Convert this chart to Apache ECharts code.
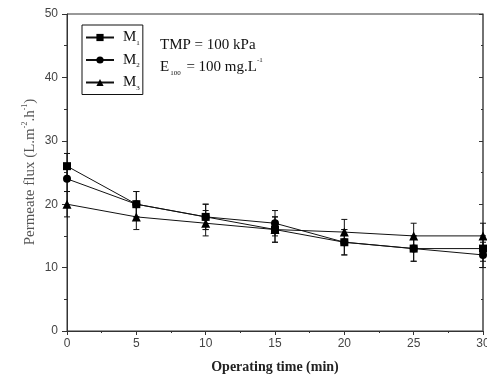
<!DOCTYPE html>
<html>
<head>
<meta charset="utf-8">
<script src="https://cdn.jsdelivr.net/npm/echarts@6/dist/echarts.min.js"></script>
<style>
  html, body { margin: 0; padding: 0; background: #fff; }
  #chart { width: 487px; height: 379px; }
</style>
</head>
<body>
<div id="chart"></div>
<script>
// operating time (min)
const time = [0, 5, 10, 15, 20, 25, 30];
// permeate flux (L.m-2.h-1)
const m1 = [26, 20, 18, 16, 14, 13, 13];
const m2 = [24, 20, 18, 17, 14, 13, 12];
const m3 = [20, 18, 17, 16, 15.6, 15, 15];
// +/- error
const err1 = [2, 2, 2, 2, 2, 2, 2];
const err2 = [2, 2, 2, 2, 2, 2, 2];
const err3 = [2, 2, 2, 2, 2, 2, 2];

const serif = '"Liberation Serif", "DejaVu Serif", serif';
const sans = '"Liberation Sans", Arial, sans-serif';

function pairs(vals) {
  return time.map((t, i) => [t, vals[i]]);
}
function errData(vals, e) {
  return time.map((t, i) => [t, vals[i] - e[i], vals[i] + e[i]]);
}

function renderErr(params, api) {
  const x = api.value(0);
  const lo = api.coord([x, api.value(1)]);
  const hi = api.coord([x, api.value(2)]);
  const cap = 3;
  const st = { stroke: '#111', lineWidth: 1 };
  return {
    type: 'group',
    children: [
      { type: 'line', shape: { x1: lo[0], y1: lo[1], x2: hi[0], y2: hi[1] }, style: st },
      { type: 'line', shape: { x1: lo[0] - cap, y1: lo[1], x2: lo[0] + cap, y2: lo[1] }, style: st },
      { type: 'line', shape: { x1: hi[0] - cap, y1: hi[1], x2: hi[0] + cap, y2: hi[1] }, style: st }
    ]
  };
}

function lineSeries(name, vals, symbol, size) {
  return {
    name: name,
    type: 'line',
    data: pairs(vals),
    symbol: symbol,
    symbolSize: size,
    showAllSymbol: true,
    z: 3,
    lineStyle: { color: '#111', width: 1 },
    itemStyle: { color: '#000' }
  };
}

function errSeries(vals, e) {
  return {
    type: 'custom',
    data: errData(vals, e),
    renderItem: renderErr,
    z: 2,
    silent: true,
    encode: { x: 0, y: [1, 2] }
  };
}

const legendRich = {
  m: { fontFamily: serif, fontSize: 15, color: '#111', lineHeight: 18, padding: [0, 0, 0, 4] },
  s: { fontFamily: serif, fontSize: 7, color: '#111', verticalAlign: 'bottom', lineHeight: 6 }
};

const chart = echarts.init(document.getElementById('chart'));
chart.setOption({
  animation: false,
  grid: {
    left: 67, right: 4, top: 14, bottom: 48,
    containLabel: false, outerBoundsMode: 'none',
    show: true, borderColor: '#333', borderWidth: 1
  },
  legend: {
    orient: 'vertical',
    left: 82,
    top: 25,
    borderColor: '#111',
    borderWidth: 1,
    borderRadius: 0,
    padding: [5, 3, 3, 3],
    itemWidth: 28,
    itemHeight: 9,
    itemGap: 6,
    data: ['M1', 'M2', 'M3'],
    formatter: function (name) {
      return '{m|M}{s|' + name.slice(1) + '}';
    },
    textStyle: { rich: legendRich }
  },
  xAxis: {
    type: 'value',
    min: 0,
    max: 30,
    interval: 5,
    splitLine: { show: false },
    axisLine: { lineStyle: { color: '#333' } },
    axisTick: { inside: false, length: 4, lineStyle: { color: '#333' } },
    minorTick: { show: true, splitNumber: 2, length: 2, lineStyle: { color: '#333' } },
    axisLabel: { color: '#444', fontFamily: sans, fontSize: 12, margin: 7 },
    name: 'Operating time (min)',
    nameLocation: 'middle',
    nameGap: 29,
    nameTextStyle: { fontFamily: serif, fontSize: 14, fontWeight: 'bold', color: '#222' }
  },
  yAxis: [{
    type: 'value',
    min: 0,
    max: 50,
    interval: 10,
    splitLine: { show: false },
    axisLine: { show: true, lineStyle: { color: '#333' } },
    axisTick: { show: true, inside: false, length: 5, lineStyle: { color: '#333' } },
    minorTick: { show: true, splitNumber: 2, length: 3, lineStyle: { color: '#333' } },
    axisLabel: { color: '#444', fontFamily: sans, fontSize: 12, margin: 9 }
  }, {
    type: 'value',
    position: 'right',
    min: 0,
    max: 50,
    interval: 10,
    splitLine: { show: false },
    axisLine: { show: true, lineStyle: { color: '#666', width: 1.5 } },
    axisTick: { show: true, inside: true, length: 4, lineStyle: { color: '#333' } },
    minorTick: { show: true, splitNumber: 2, length: 2, lineStyle: { color: '#333' } },
    axisLabel: { show: false }
  }],
  graphic: [
    {
      type: 'text',
      left: 160,
      top: 38,
      style: { text: 'TMP = 100 kPa', font: '15px ' + serif, fill: '#111' }
    },
    {
      type: 'text',
      left: 160,
      top: 57,
      style: {
        text: '{n|E}{sub|100}{n| = 100 mg.L}{sup|-1}',
        rich: {
          n: { fontFamily: serif, fontSize: 15, fill: '#111', lineHeight: 20 },
          sub: { fontFamily: serif, fontSize: 7, fill: '#111', lineHeight: 8, verticalAlign: 'bottom', padding: [0, 2, 0, 1] },
          sup: { fontFamily: serif, fontSize: 7, fill: '#111', lineHeight: 8, verticalAlign: 'top' }
        }
      }
    },
    {
      type: 'text',
      x: 30,
      y: 172,
      rotation: Math.PI / 2,
      style: {
        text: '{n|Permeate flux (L.m}{sup|-2}{n|.h}{sup|-1}{n|)}',
        align: 'center',
        verticalAlign: 'middle',
        rich: {
          n: { fontFamily: serif, fontSize: 15, fill: '#555', lineHeight: 18 },
          sup: { fontFamily: serif, fontSize: 8, fill: '#555', lineHeight: 8, verticalAlign: 'top' }
        }
      }
    }
  ],
  series: [
    lineSeries('M1', m1, 'rect', 8),
    lineSeries('M2', m2, 'circle', 8),
    lineSeries('M3', m3, 'triangle', 9),
    errSeries(m1, err1),
    errSeries(m2, err2),
    errSeries(m3, err3)
  ]
});
</script>
</body>
</html>
